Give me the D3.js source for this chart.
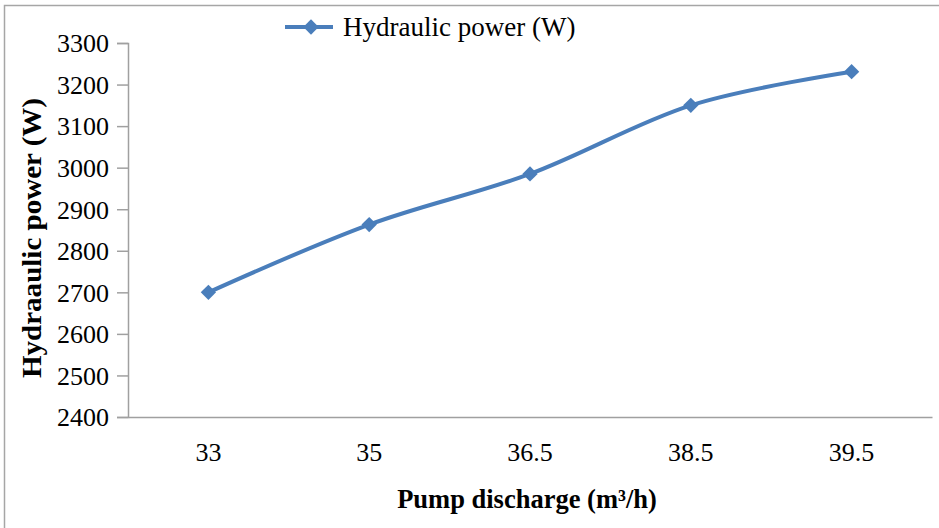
<!DOCTYPE html>
<html>
<head>
<meta charset="utf-8">
<script src="https://cdn.jsdelivr.net/npm/d3@7"></script>
<style>
  html, body { margin: 0; padding: 0; background: #fff; }
  svg { display: block; }
  text { font-family: "Liberation Serif", "Times New Roman", serif; fill: #000; }
</style>
</head>
<body>
<div id="chart"></div>
<script>
// chart data
const discharge = ['33', '35', '36.5', '38.5', '39.5'];
const hydraulicPower = [2700, 2863, 2985, 3150, 3231];
const yTicks = [2400, 2500, 2600, 2700, 2800, 2900, 3000, 3100, 3200, 3300];

const W = 939, H = 528;
const margin = { left: 128, right: 7, top: 43, bottom: 111 };
const lineColor = '#4a7ebb';
const axisColor = '#a0a0a0';

const svg = d3.select('#chart').append('svg')
  .attr('width', W)
  .attr('height', H);

// outer frame (only top/left edges are inside the picture)
svg.append('rect')
  .attr('x', 4.5).attr('y', 5.5)
  .attr('width', W + 10).attr('height', H + 10)
  .attr('fill', 'none')
  .attr('stroke', '#a6a6a6')
  .attr('stroke-width', 1.5);

const x = d3.scaleBand()
  .domain(discharge)
  .range([margin.left, W - margin.right]);

const y = d3.scaleLinear()
  .domain([2400, 3300])
  .range([H - margin.bottom, margin.top]);

// y axis
const yAxis = svg.append('g')
  .attr('transform', `translate(${margin.left},0)`)
  .call(d3.axisLeft(y).tickValues(yTicks).tickSize(11).tickPadding(8).tickFormat(d3.format('d')));
yAxis.select('.domain').attr('stroke', axisColor).attr('stroke-width', 1.5);
yAxis.selectAll('.tick line').attr('stroke', axisColor).attr('stroke-width', 1.5);
yAxis.selectAll('.tick text')
  .style('font-size', '26px')
  .attr('dy', '0.34em');

// x axis
const xAxis = svg.append('g')
  .attr('transform', `translate(0,${H - margin.bottom})`)
  .call(d3.axisBottom(x).tickSize(0).tickPadding(26).tickSizeOuter(0));
xAxis.select('.domain').attr('stroke', axisColor).attr('stroke-width', 1.5);
xAxis.selectAll('.tick text').style('font-size', '26px');

// axis titles
svg.append('text')
  .attr('x', 527).attr('y', 508)
  .attr('text-anchor', 'middle')
  .style('font-size', '26.5px')
  .style('font-weight', 'bold')
  .text('Pump discharge (m³/h)');

// picture is taller than wide, so the rotated title runs longer
svg.append('text')
  .attr('transform', 'translate(41,238) rotate(-90)')
  .attr('x', -140)
  .attr('textLength', 280)
  .attr('lengthAdjust', 'spacingAndGlyphs')
  .style('font-size', '27px')
  .style('font-weight', 'bold')
  .text('Hydraaulic power (W)');

// smoothed series line
const line = d3.line()
  .x((d, i) => x(discharge[i]) + x.bandwidth() / 2)
  .y(d => y(d))
  .curve(d3.curveCardinal.tension(0));

svg.append('path')
  .datum(hydraulicPower)
  .attr('d', line)
  .attr('fill', 'none')
  .attr('stroke', lineColor)
  .attr('stroke-width', 4)
  .attr('stroke-linejoin', 'round');

const diamond = d3.symbol().type(d3.symbolDiamond2).size(150);

svg.append('g')
  .selectAll('path')
  .data(hydraulicPower)
  .join('path')
  .attr('d', diamond)
  .attr('transform', (d, i) => `translate(${x(discharge[i]) + x.bandwidth() / 2},${y(d)})`)
  .attr('fill', lineColor);

// legend
const legend = svg.append('g').attr('transform', 'translate(285,27)');
legend.append('line')
  .attr('x1', 0).attr('x2', 48)
  .attr('stroke', lineColor)
  .attr('stroke-width', 4);
legend.append('path')
  .attr('d', diamond)
  .attr('transform', 'translate(26,0)')
  .attr('fill', lineColor);
legend.append('text')
  .attr('x', 58).attr('y', 9)
  .style('font-size', '27px')
  .text('Hydraulic power (W)');
</script>
</body>
</html>
